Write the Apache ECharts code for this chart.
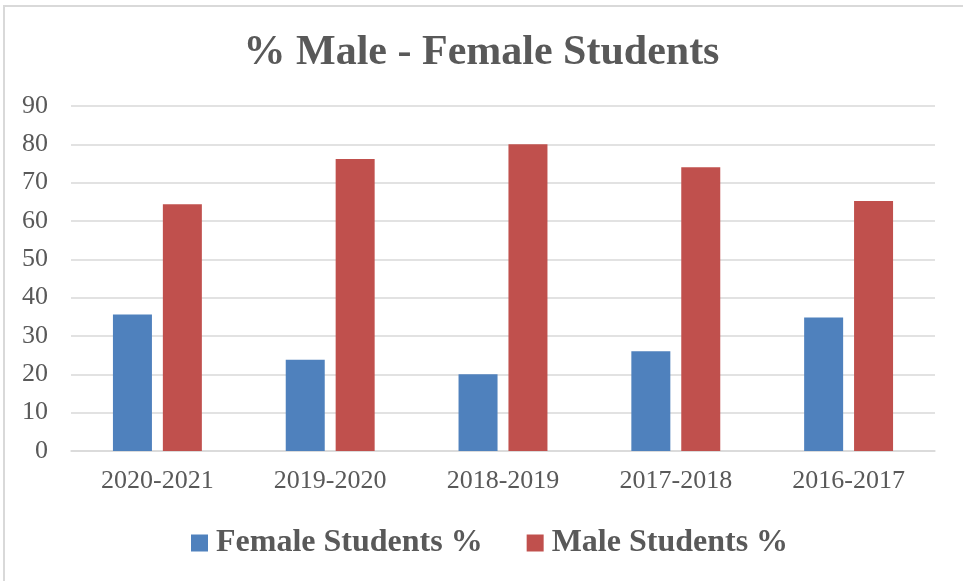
<!DOCTYPE html>
<html>
<head>
<meta charset="utf-8">
<script src="https://cdn.jsdelivr.net/npm/echarts@6/dist/echarts.min.js"></script>
<style>
  html, body { margin:0; padding:0; background:#fff; }
  #chart { width:963px; height:581px; }
  #frame { position:absolute; left:3px; top:5px; width:970px; height:574px;
           border-left:2px solid #d9d9d9; border-top:2px solid #d9d9d9; border-bottom:2px solid #d9d9d9;
           pointer-events:none; }
</style>
</head>
<body>
<div id="chart"></div>
<div id="frame"></div>
<script>
/* % Male - Female Students, grouped columns */
var years = ["2020-2021", "2019-2020", "2018-2019", "2017-2018", "2016-2017"];
var femalePct = [35.6, 23.8, 20.0, 26.0, 34.8];
var malePct   = [64.4, 76.2, 80.0, 74.0, 65.2];
var yTicks = [0, 10, 20, 30, 40, 50, 60, 70, 80, 90];

var C = { female:"#4f81bd", male:"#c0504d", text:"#595959", grid:"#d9d9d9" };
var serif = "'Liberation Serif','Times New Roman',serif";

var ch = echarts.init(document.getElementById("chart"), null, {renderer:"canvas"});
ch.setOption({
  animation:false,
  backgroundColor:"#fff",
  title:{ text:"% Male - Female Students", left:"center", top:27,
    textStyle:{ color:C.text, fontFamily:serif, fontWeight:"bold", fontSize:42 } },
  legend:{ top:522, left:186, itemWidth:17, itemHeight:17, itemGap:44,
    icon:"rect",
    textStyle:{ color:C.text, fontFamily:serif, fontWeight:"bold", fontSize:32, padding:[0,0,0,3] },
    data:["Female Students %", "Male Students %"] },
  grid:{ left:71, right:28, top:106, bottom:130, containLabel:false },
  xAxis:{ type:"category", data:years,
    axisLine:{ lineStyle:{ color:C.grid, width:1.5 } },
    axisTick:{ show:false },
    axisLabel:{ color:C.text, fontFamily:serif, fontSize:26, margin:17 } },
  yAxis:{ type:"value", min:yTicks[0], max:yTicks[yTicks.length-1], interval:10,
    axisLine:{ show:false }, axisTick:{ show:false },
    axisLabel:{ color:C.text, fontFamily:serif, fontSize:26, margin:23 },
    splitLine:{ lineStyle:{ color:C.grid, width:1.5 } } },
  series:[
    { name:"Female Students %", type:"bar", data:femalePct, barWidth:39, barGap:"28%",
      itemStyle:{ color:C.female } },
    { name:"Male Students %", type:"bar", data:malePct, barWidth:39,
      itemStyle:{ color:C.male } }
  ]
});
</script>
</body>
</html>
